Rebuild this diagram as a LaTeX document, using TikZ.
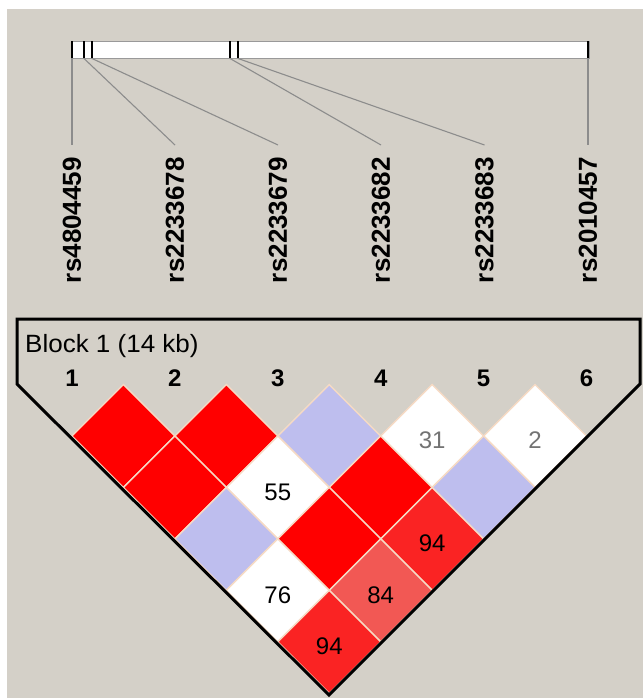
\documentclass[tikz,border=0pt]{standalone}
\usepackage{fontspec}
\setsansfont{DejaVu Sans}
\newfontfamily\cellfont{Liberation Sans}
\usepackage{tikz}
\usetikzlibrary{positioning,shapes.geometric}
\pgfdeclarelayer{background}
\pgfsetlayers{background,main}
\definecolor{mygrey}{RGB}{212,208,200}
\definecolor{myred}{RGB}{255,0,0}
\definecolor{myredA}{RGB}{250,35,35}
\definecolor{myredB}{RGB}{242,88,84}
\definecolor{mylavender}{RGB}{190,190,238}
\definecolor{mycream}{RGB}{246,218,196}
\definecolor{mylink}{RGB}{140,140,140}
\colorlet{mydim}{black!55}
\tikzstyle{cell}=[diamond,draw=mycream,line width=1.4pt,minimum size=102.9pt,inner sep=0pt,outer sep=0pt,text height=25.5pt,text depth=0pt,font=\cellfont\fontsize{24}{24}\selectfont]
\tikzstyle{cell red}=[cell,fill=myred]
\tikzstyle{cell white}=[cell,fill=white]
\tikzstyle{cell lavender}=[cell,fill=mylavender]
\tikzstyle{snp}=[rotate=90,anchor=east,inner sep=0pt,font=\cellfont\bfseries\fontsize{26}{26}\selectfont]
\tikzstyle{marker}=[inner sep=0pt,font=\cellfont\bfseries\fontsize{24}{24}\selectfont]
\tikzstyle{connect}=[mylink,line width=1.1pt]

\begin{document}
\begin{tikzpicture}[x=1pt,y=-1pt]

\useasboundingbox (0,0) rectangle (643,698);

% gene bar
\node [draw=gray!80, fill=white, line width=1pt, minimum width=518pt, minimum height=17pt, inner sep=0pt, anchor=north west] (bar) at (71,41.5) {};
\foreach \x/\n in {72/1,84/2,92/3,230/4,238/5,588/6} {
    \coordinate (t\n) at (\x,58.5);
    \draw [line width=2.5pt] (t\n) -- ++(0,-17);
}

% SNP names
\node [snp] (s1) at (72,157) {rs4804459};
\node [snp] (s2) at (175,157) {rs2233678};
\node [snp] (s3) at (278,157) {rs2233679};
\node [snp] (s4) at (381,157) {rs2233682};
\node [snp] (s5) at (484.5,157) {rs2233683};
\node [snp] (s6) at (588,157) {rs2010457};

\begin{scope} [connect]
    \foreach \n in {1,...,6}
        \draw (t\n) -- ([yshift=12pt]s\n.east);
\end{scope}

% Block
\node [inner sep=0pt, anchor=base west, font=\cellfont\fontsize{25}{25}\selectfont] (blk) at (25,352) {\scalebox{1.04}[1]{Block 1 (14 kb)}};
\node [marker] (n1) at (72,378) {1};
\node [marker] (n2) at (174.9,378) {2};
\node [marker] (n3) at (277.8,378) {3};
\node [marker] (n4) at (380.7,378) {4};
\node [marker] (n5) at (483.6,378) {5};
\node [marker] (n6) at (586.5,378) {6};

% row 1
\node [cell red] (d12) at (123.45,436) {};
\node [cell red, anchor=west] (d23) at (d12.east) {};
\node [cell lavender, anchor=west] (d34) at (d23.east) {};
\node [cell white, anchor=west, text=mydim] (d45) at (d34.east) {31};
\node [cell white, anchor=west, text=mydim] (d56) at (d45.east) {2};

% row 2
\node [cell red, anchor=west] (d13) at (d12.south) {};
\node [cell white, anchor=west] (d24) at (d13.east) {55};
\node [cell red, anchor=west] (d35) at (d24.east) {};
\node [cell lavender, anchor=west] (d46) at (d35.east) {};

% row 3
\node [cell lavender, anchor=west] (d14) at (d13.south) {};
\node [cell red, anchor=west] (d25) at (d14.east) {};
\node [cell, fill=myredA, anchor=west] (d36) at (d25.east) {94};

% row 4
\node [cell white, anchor=west] (d15) at (d14.south) {76};
\node [cell, fill=myredB, anchor=west] (d26) at (d15.east) {84};

% row 5
\node [cell, fill=myredA, anchor=west] (d16) at (d15.south) {94};

\draw [line width=3pt, line join=miter] (17,319) -- (640,319) -- (640,384) -- (329,695) -- (17,384) -- cycle;

% adding the background
\begin{pgfonlayer}{background}
    \fill [white] (0,0) rectangle (643,698);
    \fill [mygrey] (7,9) rectangle (643,698);
\end{pgfonlayer}

\end{tikzpicture}
\end{document}
